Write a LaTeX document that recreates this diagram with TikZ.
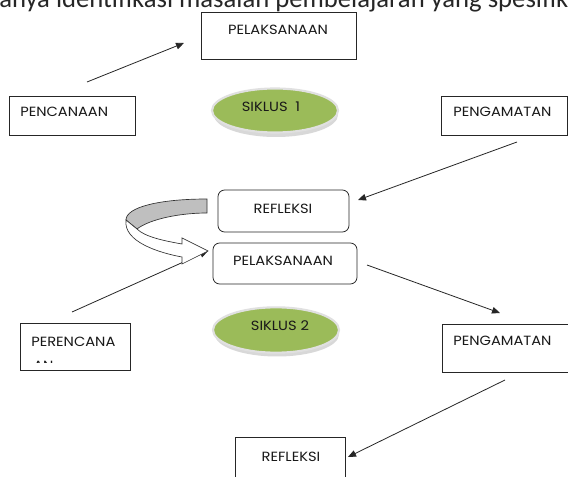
\documentclass[tikz,border=0pt]{standalone}
\usepackage{fontspec}
\setmainfont{Carlito}
\newfontfamily\boxfont[FakeStretch=1.1]{Poppins}
\usetikzlibrary{arrows.meta,shapes.geometric}
\definecolor{olive}{RGB}{155,187,89}
\tikzset{
  boxr/.style={draw=black!85, line width=0.6pt, inner sep=0pt},
  rboxr/.style={boxr, rounded corners=5pt},
  lbl/.style={font=\boxfont\fontsize{10}{12}\selectfont, inner sep=0pt, text=black!90},
  arr/.style={line width=0.6pt, black!85, -{Triangle[length=6pt,width=5pt]}},
  siklus/.style={ellipse, fill=olive, draw=black!12, line width=1.6pt, inner sep=0pt},
}
\begin{document}
\begin{tikzpicture}[x=0.75pt,y=-0.75pt]
\useasboundingbox (0,0) rectangle (568,477);
\clip (0,0) rectangle (568,477);
\fill[white] (0,0) rectangle (568,477);
% boxes
\node[boxr, minimum width=116.25pt, minimum height=35.25pt] (p1) at (278.5,35.5) {};
\node[lbl] (p1t) at (278,30) {PELAKSANAAN};
\node[boxr, minimum width=94.5pt, minimum height=29.25pt] (r1) at (72,115.5) {};
\node[lbl, anchor=west] (r1t) at (20,112) {PENCANAAN};
\node[boxr, minimum width=94.5pt, minimum height=29.25pt] (g1) at (504.5,115.5) {};
\node[lbl, anchor=west] (g1t) at (453,112) {PENGAMATAN};
\node[rboxr, minimum width=98.25pt, minimum height=31.5pt] (f1) at (283.5,211) {};
\node[lbl] (f1t) at (283,209) {REFLEKSI};
\node[rboxr, minimum width=108pt, minimum height=30.75pt] (p2) at (285,263.5) {};
\node[lbl] (p2t) at (283,261) {PELAKSANAAN};
\node[boxr, minimum width=82.5pt, minimum height=35.25pt] (r2) at (75,346.5) {};
\node[lbl, anchor=west] (r2t) at (31,342) {PERENCANA};
\begin{scope}
\clip (30,358) rectangle (70,362.5);
\node[lbl, anchor=west] (r2u) at (33,366) {AN};
\end{scope}
\node[boxr, minimum width=94.5pt, minimum height=36pt] (g2) at (505,348) {};
\node[lbl, anchor=west] (g2t) at (453,341) {PENGAMATAN};
\node[boxr, minimum width=82.5pt, minimum height=40pt] (f2) at (290,464) {};
\node[lbl] (f2t) at (291,457) {REFLEKSI};
% top running text (cut at the top edge, as in the reference)
\node[anchor=base west, inner sep=0pt, font=\fontsize{20}{24}\selectfont, text=black!85] (head) at (-1,7.5) {anya identifikasi masalah pembelajaran yang spesifik};
% siklus ellipses
\fill[black!25, opacity=0.6] (276,115) ellipse [x radius=62, y radius=22];
\node[siklus, minimum width=94.5pt, minimum height=33pt] (s1) at (275,110.5) {};
\node[lbl] (s1t) at (271,107) {SIKLUS\ \ 1};
\fill[black!25, opacity=0.6] (277,334.5) ellipse [x radius=62, y radius=22];
\node[siklus, minimum width=94.5pt, minimum height=34pt] (s2) at (276,330) {};
\node[lbl] (s2t) at (280,326) {SIKLUS 2};
% connectors
\coordinate (a1s) at (87,82);   \coordinate (a1e) at (184,43);
\coordinate (a2s) at (517,142); \coordinate (a2e) at (358,200);
\coordinate (a3s) at (72,312);  \coordinate (a3e) at (208,251);
\coordinate (a4s) at (367,265); \coordinate (a4e) at (500,313);
\coordinate (a5s) at (505,380); \coordinate (a5e) at (348,457);
\draw[arr] (a1s) -- (a1e);
\draw[arr] (a2s) -- (a2e);
\draw[arr] (a3s) -- (a3e);
\draw[arr] (a4s) -- (a4e);
\draw[arr] (a5s) -- (a5e);
% curved block arrow
\coordinate (cA) at (207,199);
\coordinate (cG) at (207,213);
\coordinate (cP1) at (126,220);
\coordinate (cP2) at (137,229);
\coordinate (cB) at (182,257);
\coordinate (cT) at (182,244);
\filldraw[fill=black!25, draw=black!80, line width=0.5pt]
  (cA) .. controls (160,199) and (126,207) .. (cP1)
  -- (cP2) .. controls (150,219) and (180,213) .. (cG) -- cycle;
\filldraw[fill=white, draw=black!80, line width=0.5pt]
  (cP1) .. controls (123,242) and (160,253) .. (cB)
  -- (182,264) -- (208,251) -- (182,238) -- (cT)
  .. controls (165,241) and (145,237) .. (cP2) -- cycle;
\end{tikzpicture}
\end{document}
